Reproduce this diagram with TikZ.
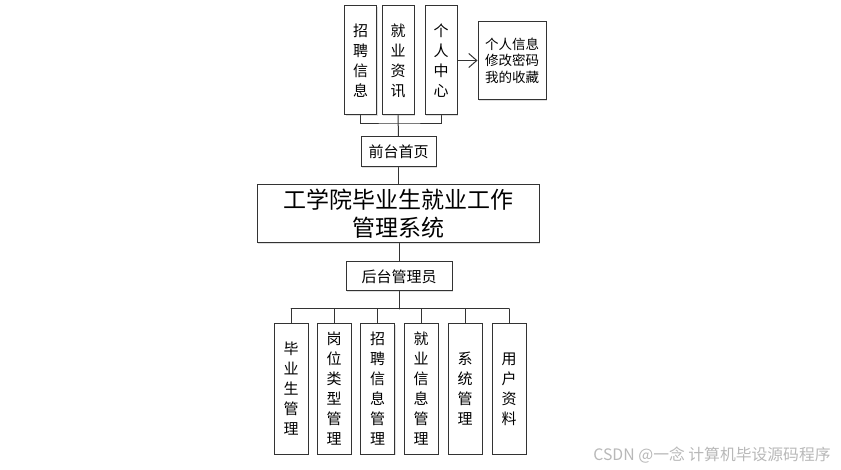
\documentclass[tikz,border=0pt]{standalone}
\usepackage{fontspec}
\newfontfamily\cjk{Noto Sans CJK SC}
\usetikzlibrary{arrows.meta,shadows}

\begin{document}
\begin{tikzpicture}[x=1pt,y=-1pt,line cap=round,
	box/.style={draw=black!80,line width=1pt,fill=white,align=center,inner sep=0pt,
		font=\cjk\fontsize{15}{20}\selectfont,
		drop shadow={shadow xshift=1.2pt,shadow yshift=-1.2pt,opacity=.25}},
	topbox/.style={box,minimum width=32,minimum height=109},
	lowbox/.style={box,minimum width=34,minimum height=130},
	link/.style={draw=black!80,line width=1pt}]
	\useasboundingbox (0,0) rectangle (841,470);
	% 前台
	\node[topbox] (zpxx) at (360.5,60.5) {招\\聘\\信\\息};
	\node[topbox] (jyzx) at (398,60.5) {就\\业\\资\\讯};
	\node[topbox] (grzx) at (441,60.5) {个\\人\\中\\心};
	\node[box,minimum width=68,minimum height=78,font=\cjk\fontsize{13.5}{16.5}\selectfont] (grxx) at (512,60.5) {个人信息\\修改密码\\我的收藏};
	\node[box,minimum width=75,minimum height=30] (qtsy) at (398.5,152) {前台首页};
	\coordinate (tbar) at (398,124);
	\draw[link] (zpxx.south) |- (tbar) -| (grzx.south);
	\draw[link] (jyzx.south) -- (qtsy.north);
	\draw[link,-{Straight Barb[length=8pt,width=14pt,line width=1pt]}] (grzx.east) -- (grxx.west);
	% 系统
	\node[box,minimum width=282,minimum height=58,font=\cjk\fontsize{23}{28}\selectfont] (xt) at (398,214) {工学院毕业生就业工作\\管理系统};
	\draw[link] (qtsy.south) -- (qtsy.south |- xt.north);
	% 后台
	\node[box,minimum width=106,minimum height=29] (htgl) at (399,276.5) {后台管理员};
	\draw[link] (xt.south -| htgl.north) -- (htgl.north);
	\coordinate (bbar) at (399,309);
	\draw[link] (htgl.south) -- (bbar);
	\foreach \i/\x/\txt in {1/291/毕\\业\\生\\管\\理,2/334/岗\\位\\类\\型\\管\\理,3/377.5/招\\聘\\信\\息\\管\\理,
		4/421/就\\业\\信\\息\\管\\理,5/465/系\\统\\管\\理,6/509/用\\户\\资\\料}{
		\node[lowbox] (gl\i) at (\x,389) {\txt};
		\draw[link] (gl\i.north) -- (gl\i.north |- bbar);
	}
	\draw[link] (gl1.north |- bbar) -- (gl6.north |- bbar);
	% 水印
	\node[font=\cjk\fontsize{15.8}{18}\selectfont,text=black!28] (sy) at (712,455) {CSDN @一念 计算机毕设源码程序};
\end{tikzpicture}
\end{document}
